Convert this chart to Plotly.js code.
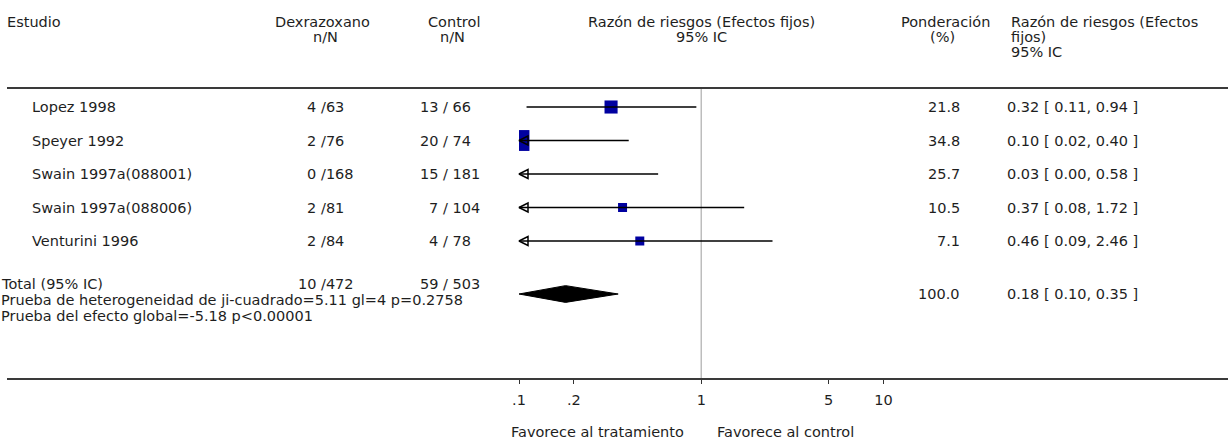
<!DOCTYPE html>
<html>
<head>
<meta charset="utf-8">
<script src="https://cdn.plot.ly/plotly-3.0.1.min.js"></script>
<style>html,body{margin:0;padding:0;background:#fff;}#chart{width:1228px;height:441px;}</style>
</head>
<body>
<div id="chart"></div>
<script>
// ---- data ----
const studies   = ['Lopez 1998', 'Speyer 1992', 'Swain 1997a(088001)', 'Swain 1997a(088006)', 'Venturini 1996'];
const dexEvents = [4, 2, 0, 2, 2];
const dexTotal  = [63, 76, 168, 81, 84];
const ctlEvents = [13, 20, 15, 7, 4];
const ctlTotal  = [66, 74, 181, 104, 78];
const weights   = [21.8, 34.8, 25.7, 10.5, 7.1];
const rr        = [0.32, 0.10, 0.03, 0.37, 0.46];
const rrLow     = [0.11, 0.02, 0.00, 0.08, 0.09];
const rrHigh    = [0.94, 0.40, 0.58, 1.72, 2.46];
const totalLabel = 'Total (95% IC)';
const totalDex   = [10, 472];
const totalCtl   = [59, 503];
const totalWeight = 100.0;
const totalRR    = [0.18, 0.10, 0.35];
const hetText    = 'Prueba de heterogeneidad de ji-cuadrado=5.11 gl=4 p=0.2758';
const effText    = 'Prueba del efecto global=-5.18 p<0.00001';
const tickVals   = [0.1, 0.2, 1, 5, 10];
const tickText   = ['.1', '.2', '1', '5', '10'];
const axisMin = 0.1, axisMax = 10;

// ---- layout helpers ----
const W = 1228, H = 441;
const rowTop = 107, rowStep = 33.5, axisBottom = 379, headerRule = 88;
const FONT = 'DejaVu Sans, Verdana, sans-serif';
const FS = 14.5;
const TXT = '#1e1e1e';
const px = x => x / W;
const py = y => 1 - y / H;
const rowOfPx = y => (y - rowTop) / rowStep;

const totalRowLabel = rowOfPx(284);
const totalRowNum = rowOfPx(294);

const ann = [];
function txt(text, x, y, anchor, yref, yanchor) {
  ann.push({text: text, x: px(x), xref: 'paper', y: yref === 'y' ? y : py(y), yref: yref || 'paper',
    xanchor: anchor, yanchor: yanchor || 'middle', showarrow: false, borderpad: 0,
    font: {family: FONT, size: FS, color: TXT}});
}

// header
txt('Estudio', 6, 22, 'left');
txt('Dexrazoxano', 322, 22, 'center');
txt('n/N', 325, 37, 'center');
txt('Control', 454, 22, 'center');
txt('n/N', 452, 37, 'center');
txt('Razón de riesgos (Efectos fijos)', 701.5, 22, 'center');
txt('95% IC', 701.5, 37, 'center');
txt('Ponderación', 945, 22, 'center');
txt('(%)', 942, 37, 'center');
txt('Razón de riesgos (Efectos', 1010, 22, 'left');
txt('fijos)', 1010, 37, 'left');
txt('95% IC', 1010, 52, 'left');

const dexSlash = 322, ctlSlash = 444;
studies.forEach((s, i) => {
  txt(s, 31, i, 'left', 'y');
  txt(dexEvents[i] + ' ', dexSlash, i, 'right', 'y');
  txt('/' + dexTotal[i], dexSlash - 2, i, 'left', 'y');
  txt(ctlEvents[i] + ' ', ctlSlash, i, 'right', 'y');
  txt('/ ' + ctlTotal[i], ctlSlash - 2, i, 'left', 'y');
  txt(weights[i].toFixed(1), 961, i, 'right', 'y');
  txt(rr[i].toFixed(2) + ' [ ' + rrLow[i].toFixed(2) + ', ' + rrHigh[i].toFixed(2) + ' ]', 1006, i, 'left', 'y');
});
txt(totalLabel, 0, totalRowLabel, 'left', 'y');
txt(totalDex[0] + ' ', dexSlash, totalRowLabel, 'right', 'y');
txt('/' + totalDex[1], dexSlash - 2, totalRowLabel, 'left', 'y');
txt(totalCtl[0] + ' ', ctlSlash, totalRowLabel, 'right', 'y');
txt('/ ' + totalCtl[1], ctlSlash - 2, totalRowLabel, 'left', 'y');
txt(totalWeight.toFixed(1), 961, totalRowNum, 'right', 'y');
txt(totalRR[0].toFixed(2) + ' [ ' + totalRR[1].toFixed(2) + ', ' + totalRR[2].toFixed(2) + ' ]', 1006, totalRowNum, 'left', 'y');
txt(hetText, 0, 300, 'left');
txt(effText, 0, 316, 'left');
txt('Favorece al tratamiento', 685, 441, 'right', 'paper', 'bottom');
txt('Favorece al control', 716, 441, 'left', 'paper', 'bottom');

// ---- traces ----
const ciX = [], ciY = [];
studies.forEach((s, i) => {
  ciX.push(Math.max(rrLow[i], axisMin), Math.min(rrHigh[i], axisMax), null);
  ciY.push(i, i, null);
});
const arrowX = [], arrowY = [];
studies.forEach((s, i) => { if (rrLow[i] < axisMin) { arrowX.push(axisMin); arrowY.push(i); } });

const yMin = rowOfPx(0), yMax = rowOfPx(axisBottom);

const traces = [
  { // reference line at RR = 1
    x: [1, 1], y: [rowOfPx(headerRule), yMax], mode: 'lines',
    line: {color: '#bdbdbd', width: 1.5}, hoverinfo: 'skip'
  },
  { // study boxes
    x: rr, y: studies.map((s, i) => i), mode: 'markers',
    marker: {symbol: 'square', size: weights.map(w => Math.max(9, 0.6 * w)), color: '#0000a0', opacity: 1, line: {width: 0}},
    cliponaxis: true
  },
  { // CIs
    x: ciX, y: ciY, mode: 'lines', line: {color: '#000', width: 1.5}
  },
  { // clipped lower limits
    x: arrowX, y: arrowY, mode: 'markers', cliponaxis: false,
    marker: {symbol: 'arrow-left-open', size: 9, color: '#000', opacity: 1, line: {color: '#000', width: 1.5}}
  },
  { // pooled diamond
    x: [totalRR[1], totalRR[0], totalRR[2], totalRR[0], totalRR[1]],
    y: [totalRowNum, totalRowNum - 0.25, totalRowNum, totalRowNum + 0.25, totalRowNum],
    mode: 'lines', fill: 'toself', fillcolor: '#000', line: {color: '#000', width: 1}
  }
];

const layout = {
  width: W, height: H,
  margin: {l: 0, r: 0, t: 0, b: 0},
  paper_bgcolor: '#fff', plot_bgcolor: 'rgba(0,0,0,0)',
  showlegend: false, hovermode: false,
  xaxis: {
    type: 'log', range: [Math.log10(axisMin), Math.log10(axisMax)],
    domain: [519 / W, 883.5 / W],
    showgrid: false, zeroline: false, showline: false,
    ticks: 'outside', ticklen: 4, tickwidth: 1, tickcolor: '#333',
    tickvals: tickVals, ticktext: tickText,
    tickfont: {family: FONT, size: FS, color: TXT}, ticklabelstandoff: 4
  },
  yaxis: {
    range: [yMax, yMin], domain: [1 - axisBottom / H, 1],
    visible: false, showgrid: false, zeroline: false
  },
  shapes: [
    {type: 'line', xref: 'paper', yref: 'paper', x0: px(7), x1: 1, y0: py(headerRule), y1: py(headerRule), line: {color: '#3a3a3a', width: 2}},
    {type: 'line', xref: 'paper', yref: 'paper', x0: px(7), x1: 1, y0: py(axisBottom), y1: py(axisBottom), line: {color: '#3a3a3a', width: 2}}
  ],
  annotations: ann
};

Plotly.newPlot('chart', traces, layout, {staticPlot: true, displayModeBar: false});
</script>
</body>
</html>
